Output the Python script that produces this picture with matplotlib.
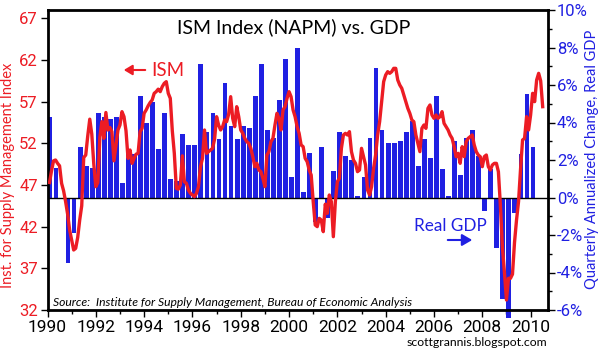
import numpy as np
import matplotlib
matplotlib.use("Agg")
import matplotlib.pyplot as plt
from matplotlib import font_manager
from matplotlib.patches import FancyArrowPatch
from matplotlib.ticker import MultipleLocator, FuncFormatter

# ======== data ========
# real GDP, quarterly annualized change (%), 1990Q1 .. 2010Q1
gdp_1990s = [4.3, 1.6, 0.0, -3.5,
             -1.9, 2.7, 1.7, 1.6,
             4.5, 4.3, 4.2, 4.3,
             0.8, 2.6, 2.3, 5.4,
             4.0, 5.1, 2.6, 4.5,
             1.0, 0.9, 3.4, 2.8,
             2.8, 7.1, 3.5, 4.5,
             3.1, 6.1, 3.8, 3.1,
             3.8, 3.7, 5.4, 7.1,
             3.6, 3.2, 5.2, 7.4]
gdp_2000s = [1.1, 8.0, 0.3, 2.4,
             -1.3, 2.7, -1.1, 1.4,
             3.5, 2.2, 2.0, 0.1,
             1.1, 3.2, 6.9, 3.6,
             2.9, 2.9, 3.0, 3.5,
             4.1, 1.7, 3.1, 2.1,
             5.4, 1.5, 0.1, 3.0,
             1.2, 3.2, 3.6, 2.2,
             -0.7, 1.5, -2.7, -5.4,
             -6.4, -0.8, 2.3, 5.5,
             2.7]

# ISM manufacturing index, monthly, Jan 1990 .. Jun 2010
ism_1990s = [47.3, 48.7, 49.9, 50.0, 49.6, 49.3, 47.2, 46.3, 45.0, 43.5, 41.6, 40.4,
             39.2, 39.4, 40.7, 42.8, 44.5, 50.3, 50.6, 52.9, 54.9, 53.1, 49.5, 46.8,
             47.3, 52.7, 54.6, 52.6, 55.7, 53.6, 53.9, 53.4, 49.9, 51.7, 53.6, 54.2,
             55.8, 55.2, 53.5, 50.2, 51.2, 49.6, 50.2, 50.7, 50.8, 53.4, 53.8, 55.6,
             56.0, 56.5, 56.9, 57.2, 58.0, 58.2, 58.5, 58.2, 58.8, 59.2, 59.4, 58.0,
             57.4, 53.5, 50.8, 46.6, 46.5, 47.0, 50.5, 47.4, 47.2, 46.4, 46.0, 45.8,
             45.6, 46.0, 46.8, 49.2, 50.2, 53.6, 50.8, 51.0, 51.2, 51.4, 52.5, 55.2,
             54.2, 53.6, 54.0, 54.8, 54.6, 55.5, 57.6, 55.0, 54.0, 56.4, 55.2, 53.6,
             53.2, 52.6, 52.2, 52.0, 51.4, 50.4, 49.2, 49.6, 48.8, 48.6, 47.8, 46.8,
             50.6, 51.0, 52.2, 52.6, 54.2, 55.6, 55.0, 53.6, 56.0, 56.4, 57.4, 58.2]
ism_2000s = [57.6, 56.0, 55.2, 54.0, 53.2, 51.8, 51.6, 50.2, 49.8, 48.8, 48.2, 45.0,
             42.2, 42.0, 43.0, 42.8, 41.4, 44.7, 43.6, 45.8, 45.0, 40.8, 45.0, 47.4,
             47.8, 51.4, 53.0, 53.2, 53.0, 53.4, 51.0, 50.0, 49.6, 48.6, 48.8, 51.4,
             50.4, 49.4, 46.4, 45.8, 46.8, 49.0, 50.6, 53.0, 54.6, 57.0, 59.4, 60.2,
             60.6, 60.4, 60.6, 61.0, 61.0, 59.6, 59.0, 58.6, 57.8, 57.0, 56.2, 55.6,
             54.8, 54.6, 53.0, 52.0, 51.0, 53.8, 54.2, 53.8, 56.2, 56.6, 55.4, 55.0,
             55.4, 55.0, 55.2, 55.8, 54.4, 54.0, 53.6, 53.0, 52.6, 51.6, 50.4, 50.8,
             49.6, 51.6, 50.4, 52.2, 52.6, 52.8, 53.0, 51.8, 51.0, 50.6, 50.4, 49.2,
             50.4, 50.6, 49.2, 48.8, 49.4, 49.6, 49.6, 48.6, 44.5, 39.5, 36.5, 33.2,
             35.8, 35.8, 36.3, 40.1, 42.8, 45.0, 48.9, 52.4, 52.6, 55.2, 53.6, 55.4,
             58.0, 57.0, 59.6, 60.4, 59.5, 56.4]

year_ticks = list(range(1990, 2011, 2))
ism_ticks = list(range(32, 68, 5))

RED = "#EC1C24"
BLUE = "#2020E2"


def pick_font(names):
    avail = {f.name for f in font_manager.fontManager.ttflist}
    for n in names:
        if n in avail:
            return n
    return "DejaVu Sans"


tickfont = pick_font(["Roboto", "Lato", "DejaVu Sans"])
plain = pick_font(["Lato", "Open Sans", "DejaVu Sans"])

gdp = gdp_1990s + gdp_2000s
ism = ism_1990s + ism_2000s
q_x = 1990 + np.arange(len(gdp)) * 0.25
m_x = 1990 + (np.arange(len(ism)) + 1) / 12.0

W, H = 605, 357
fig = plt.figure(figsize=(W / 100, H / 100), dpi=100)
ax = fig.add_axes([47.5 / W, 47 / H, 500.5 / W, 300 / H])

# ======== GDP bars (right axis) ========
ax.bar(q_x, gdp, width=0.2, align="edge", color=BLUE, clip_on=False, zorder=2)
ax.axhline(0, color="black", lw=1, zorder=3)
ax.set_ylim(-6, 10)
ax.set_xlim(1990, 2010.72)

# ======== ISM line (left axis) ========
ax2 = ax.twinx()
ax2.plot(m_x, ism, color=RED, lw=2.4, solid_joinstyle="round", zorder=4)
ax2.set_ylim(32, 68)
ax2.yaxis.tick_left()
ax.yaxis.tick_right()

ax2.set_yticks(ism_ticks)
ax2.tick_params(axis="y", length=5, width=1, pad=2, labelcolor=RED,
                labelsize=12)
for t in ax2.get_yticklabels():
    t.set_fontfamily(tickfont)

ax.yaxis.set_major_locator(MultipleLocator(2))
ax.yaxis.set_minor_locator(MultipleLocator(1))
ax.yaxis.set_major_formatter(FuncFormatter(lambda v, p: f"{v:.0f}%".replace("\u2212", "-")))
ax.tick_params(axis="y", which="major", length=5, width=1, pad=1.5,
               labelcolor=BLUE, labelsize=12)
ax.tick_params(axis="y", which="minor", length=3, width=1)

ax.set_xticks(year_ticks)
ax.xaxis.set_minor_locator(MultipleLocator(1))
ax.tick_params(axis="x", which="major", length=5, width=1, pad=2, labelsize=12.5)
ax.tick_params(axis="x", which="minor", length=3, width=1)
for t in ax.get_xticklabels() + ax.get_yticklabels():
    t.set_fontfamily(tickfont)

for s in ax.spines.values():
    s.set_linewidth(2)
for s in ax2.spines.values():
    s.set_visible(False)


# ======== texts ========
def fx(px):
    return px / W


def fy(py):
    return 1 - py / H


fig.text(fx(294), fy(27.5), "ISM Index (NAPM) vs. GDP", ha="center", va="center",
         fontsize=14, family=plain)
fig.text(fx(8), fy(175), "Inst. for Supply Management Index", rotation=90,
         ha="center", va="center", fontsize=10.5, color=RED, family=plain)
fig.text(fx(592), fy(159), "Quarterly Annualized Change, Real GDP", rotation=90,
         ha="center", va="center", fontsize=10.5, color=BLUE, family=plain)

fig.text(fx(151), fy(70), "ISM", ha="left", va="center", fontsize=13.5,
         color=RED, family=plain)
fig.add_artist(FancyArrowPatch(
    (fx(148), fy(70)), (fx(121), fy(70)), transform=fig.transFigure,
    arrowstyle="-|>,head_length=5,head_width=3", color=RED, lw=1.5))

fig.text(fx(414), fy(226), "Real GDP", ha="left", va="center", fontsize=12.3,
         color=BLUE, family=plain)
fig.add_artist(FancyArrowPatch(
    (fx(445), fy(240)), (fx(475), fy(240)), transform=fig.transFigure,
    arrowstyle="-|>,head_length=6,head_width=3.5", color=BLUE, lw=1.5))

fig.text(fx(53), fy(302), "Source:  Institute for Supply Management, Bureau of Economic Analysis",
         ha="left", va="center", fontsize=8.7, style="italic", family=plain)
fig.text(fx(547), fy(343), "scottgrannis.blogspot.com", ha="right", va="center",
         fontsize=8.8, family=plain)

fig.savefig("out.png", dpi=100)
